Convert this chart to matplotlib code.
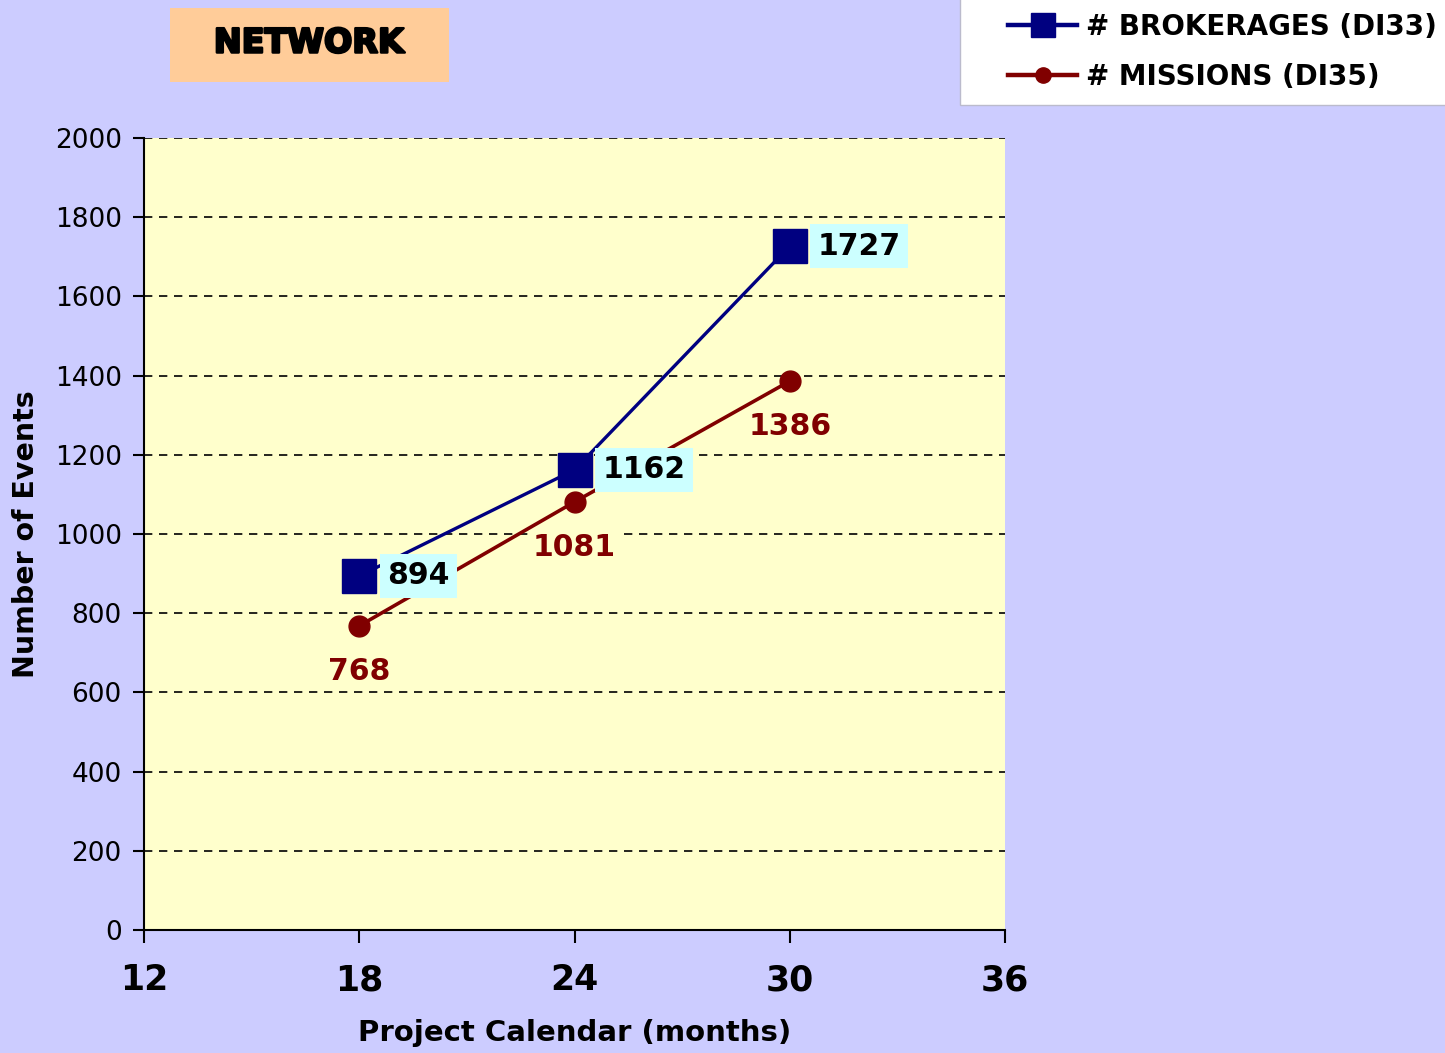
import matplotlib.pyplot as plt
import matplotlib.patheffects as pe
from matplotlib.patches import Rectangle

# data
months = [18, 24, 30]
brokerages = [894, 1162, 1727]
missions = [768, 1081, 1386]

x_ticks = [12, 18, 24, 30, 36]
y_ticks = list(range(0, 2001, 200))

navy = '#000080'
maroon = '#800000'

plt.rcParams['font.family'] = 'DejaVu Sans'

fig = plt.figure(figsize=(14.45, 10.53), dpi=100, facecolor='#CCCCFF')
ax = fig.add_axes([144 / 1445, 1 - 930 / 1053, 861 / 1445, 792 / 1053])
ax.set_facecolor('#FFFFCC')

ax.plot(months, brokerages, color=navy, lw=2.4, marker='s', ms=24,
        label='# BROKERAGES (DI33)', zorder=3)
ax.plot(months, missions, color=maroon, lw=2.6, marker='o', ms=15,
        label='# MISSIONS (DI35)', zorder=3)

for x, y in zip(months, brokerages):
    ax.annotate(str(y), (x, y), xytext=(20, 0), textcoords='offset points',
                ha='left', va='center', fontsize=21.5, fontweight='bold', color='black',
                bbox=dict(boxstyle='square,pad=0.25', fc='#CCFFFF', ec='none'), zorder=5)
for x, y in zip(months, missions):
    ax.annotate(str(y), (x, y), xytext=(0, -33), textcoords='offset points',
                ha='center', va='center', fontsize=21.5, fontweight='bold', color=maroon,
                bbox=dict(boxstyle='square,pad=0.12', fc='#FFFFCC', ec='none'), zorder=4)

ax.set_xlim(12, 36)
ax.set_ylim(0, 2000)
ax.set_xticks(x_ticks)
ax.set_yticks(y_ticks)
ax.set_xticklabels([str(t) for t in x_ticks], fontsize=25, fontweight='bold')
ax.tick_params(axis='y', labelsize=19, length=8, width=1.5, pad=8, direction='out')
ax.tick_params(axis='x', length=9, width=1.5, pad=15, direction='out')

ax.grid(axis='y', color='black', ls=(0, (5, 4)), lw=1.2)
ax.set_axisbelow(True)
for s in ['top', 'right']:
    ax.spines[s].set_visible(False)
for s in ['left', 'bottom']:
    ax.spines[s].set_linewidth(1.5)

ax.set_xlabel('Project Calendar (months)', fontsize=21, fontweight='bold')
ax.set_ylabel('Number of Events', fontsize=20.5, fontweight='bold')
ax.yaxis.set_label_coords(-0.121, 0.5)
ax.xaxis.set_label_coords(0.5, -0.112)

# title box
fig.patches.append(Rectangle((170 / 1445, 1 - 82 / 1053), 279 / 1445, 74 / 1053,
                             transform=fig.transFigure, fc='#FFCC99', ec='none'))
fig.text(309 / 1445, 1 - 43 / 1053, 'NETWORK', ha='center', va='center',
         fontsize=24, fontweight='heavy', color='black',
         path_effects=[pe.withStroke(linewidth=1.8, foreground='black')])

# legend box (white panel in the top right corner)
fig.patches.append(Rectangle((960 / 1445, 1 - 105 / 1053), 500 / 1445, 120 / 1053,
                             transform=fig.transFigure, fc='white', ec='#BBBBCC', lw=1))
leg = fig.legend(loc='center left', bbox_to_anchor=(1008 / 1445, 1 - 52 / 1053),
                 fontsize=20, handlelength=2.5, handletextpad=0.3,
                 borderpad=0, labelspacing=0.8, borderaxespad=0, frameon=False)
for t in leg.get_texts():
    t.set_fontweight('bold')
leg.legend_handles[0].set_markersize(17)
leg.legend_handles[0].set_linewidth(3.2)
leg.legend_handles[1].set_markersize(11)
leg.legend_handles[1].set_linewidth(3.2)

fig.savefig('out.png', dpi=100, facecolor=fig.get_facecolor())
